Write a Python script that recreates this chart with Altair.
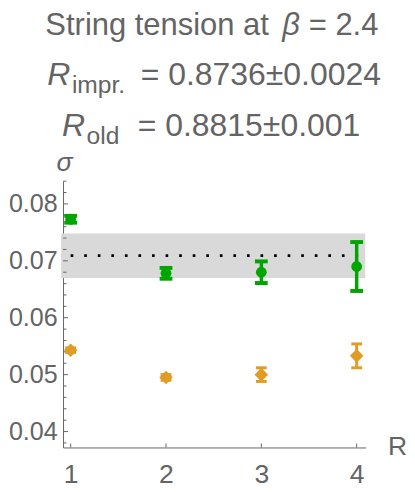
import altair as alt
import pandas as pd

# ---------------- data ----------------
R_vals = [1, 2, 3, 4]
sigma_impr = [0.0773, 0.0678, 0.0680, 0.0690]
err_impr = [0.0006, 0.00095, 0.0019, 0.0043]
sigma_old = [0.0543, 0.0495, 0.0500, 0.0533]
err_old = [0.0004, 0.0005, 0.0012, 0.0021]

band_lo = 0.0670
band_hi = 0.0748
band_mid = 0.0709
band_x = [0.90, 4.09]
line_x = [1.0, 4.05]

y_major = [0.04, 0.05, 0.06, 0.07, 0.08]
y_minor = [0.038, 0.042, 0.044, 0.046, 0.048, 0.052, 0.054, 0.056, 0.058,
           0.062, 0.064, 0.066, 0.068, 0.072, 0.074, 0.076, 0.078, 0.082, 0.084]
x_major = [1, 2, 3, 4]

title1 = ["String tension at", "β", "= 2.4"]
title2 = ["R", "impr.", "= 0.8736±0.0024"]
title3 = ["R", "old", "= 0.8815±0.001"]

# ---------------- style ----------------
GREEN = "#00a600"
ORANGE = "#e19c24"
GRAY = "#646464"
FONT = "Liberation Sans"
W, H = 308, 271
TS = 32.5  # title font size
TS1 = 31.5 # first title line
SS = 25    # subscript size
LSX = 27   # x label font size
LSY = 25.5 # y label font size

xs = alt.Scale(domain=[0.92, 4.095], nice=False, zero=False)
ys = alt.Scale(domain=[0.0372, 0.084], nice=False, zero=False)

AX = alt.Axis(
    values=x_major, format="d", tickSize=0, labelPadding=15, labelFontSize=LSX,
    labelFont=FONT, labelColor=GRAY, domainColor=GRAY, domainWidth=1, grid=False,
    title="R", titleX=340, titleY=-1, titleAlign="center", titleBaseline="middle",
    titleFont=FONT, titleFontSize=LSX, titleFontWeight="normal", titleColor=GRAY)
AY = alt.Axis(
    values=y_major, format=".2f", tickSize=0, labelPadding=6, labelFontSize=LSY,
    labelFont=FONT, labelColor=GRAY, domainColor=GRAY, domainWidth=1, grid=False,
    title="σ", titleAngle=0, titleX=1, titleY=-19, titleAlign="center",
    titleBaseline="middle", titleFont=FONT, titleFontSize=LSX, titleFontStyle="italic",
    titleFontWeight="normal", titleColor=GRAY)


def X(f):
    return alt.X(f, scale=xs, axis=AX, title="R")


def Y(f):
    return alt.Y(f, scale=ys, axis=AY, title="σ")


df_impr = pd.DataFrame({"R": R_vals, "s": sigma_impr,
                        "lo": [s - e for s, e in zip(sigma_impr, err_impr)],
                        "hi": [s + e for s, e in zip(sigma_impr, err_impr)]})
df_old = pd.DataFrame({"R": R_vals, "s": sigma_old,
                       "lo": [s - e for s, e in zip(sigma_old, err_old)],
                       "hi": [s + e for s, e in zip(sigma_old, err_old)]})

band = alt.Chart(pd.DataFrame({"x": [band_x[0]], "x2": [band_x[1]],
                               "lo": [band_lo], "hi": [band_hi]})).mark_rect(
    color="#d9d9d9", clip=False).encode(
    x=X("x:Q"), x2="x2:Q", y=Y("lo:Q"), y2="hi:Q")

dotted = alt.Chart(pd.DataFrame({"x": [line_x[0]], "x2": [line_x[1]], "y": [band_mid]})).mark_rule(
    color="black", strokeWidth=2.7, strokeDash=[2.7, 11.1]).encode(
    x=X("x:Q"), x2="x2:Q", y=Y("y:Q"))

ytick_major = alt.Chart(pd.DataFrame({"y": y_major})).mark_rule(color=GRAY, strokeWidth=1).encode(
    y=Y("y:Q"), x=alt.value(0), x2=alt.value(5))
ytick_minor = alt.Chart(pd.DataFrame({"y": y_minor})).mark_rule(color=GRAY, strokeWidth=1).encode(
    y=Y("y:Q"), x=alt.value(0), x2=alt.value(3.5))
xtick = alt.Chart(pd.DataFrame({"x": x_major})).mark_rule(color=GRAY, strokeWidth=1).encode(
    x=X("x:Q"), y=alt.value(H), y2=alt.value(H - 4))


def series(df, color, shape, size, cap_w, cap_t, stem):
    stem_l = alt.Chart(df).mark_rule(color=color, strokeWidth=stem).encode(
        x=X("R:Q"), y=Y("lo:Q"), y2="hi:Q")
    cap_lo = alt.Chart(df).mark_tick(color=color, orient="horizontal", size=cap_w,
                                     thickness=cap_t, opacity=1).encode(
        x=X("R:Q"), y=Y("lo:Q"))
    cap_hi = alt.Chart(df).mark_tick(color=color, orient="horizontal", size=cap_w,
                                     thickness=cap_t, opacity=1).encode(
        x=X("R:Q"), y=Y("hi:Q"))
    pts = alt.Chart(df).mark_point(filled=True, color=color, shape=shape, size=size,
                                   opacity=1).encode(
        x=X("R:Q"), y=Y("s:Q"))
    return [stem_l, cap_lo, cap_hi, pts]


def txt(s, x, y, size=TS, italic=False):
    return alt.Chart(pd.DataFrame({"t": [s]})).mark_text(
        font=FONT, fontSize=size, fontStyle="italic" if italic else "normal",
        color=GRAY, align="left", baseline="alphabetic").encode(
        text="t:N", x=alt.value(x), y=alt.value(y))


titles = [
    txt(title1[0], -18, -149, size=TS1),
    txt(title1[1], 223, -149, size=TS1, italic=True),
    txt(title1[2], 250, -149, size=TS1),
    txt(title2[0], -16, -98, italic=True),
    txt(title2[1], 9, -90, size=SS),
    txt(title2[2], 79, -98),
    txt(title3[0], -1, -46, italic=True),
    txt(title3[1], 24, -38, size=SS),
    txt(title3[2], 76, -46),
]

layers = [band, dotted, ytick_major, ytick_minor, xtick]
layers += series(df_impr, GREEN, "circle", 121, 13, 4, 3.5)
layers += series(df_old, ORANGE, "diamond", 190, 11, 3, 3)
layers += titles

chart = alt.layer(*layers).properties(
    width=W, height=H,
    autosize=alt.AutoSizeParams(type="none"),
    padding={"left": 56, "top": 172, "right": 42, "bottom": 34},
).configure_view(stroke=None)

chart.save("out.html", embed_options={"renderer": "svg", "actions": False})
